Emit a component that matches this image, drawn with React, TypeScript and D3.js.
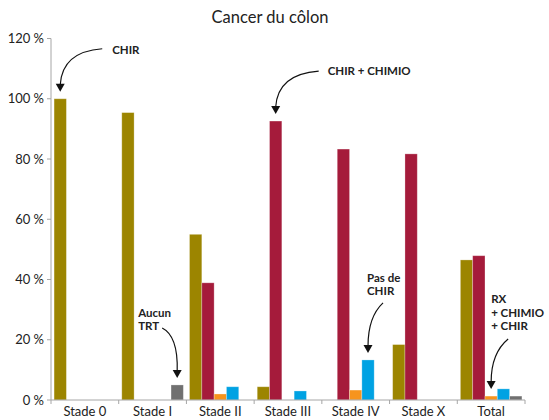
import * as React from 'react';
import * as d3 from 'd3';

// Data
const categories = ['Stade 0', 'Stade I', 'Stade II', 'Stade III', 'Stade IV', 'Stade X', 'Total'];
const seriesNames = ['CHIR', 'CHIR + CHIMIO', 'RX + CHIMIO + CHIR', 'Pas de CHIR', 'Aucun TRT'];
const chir = [100, 95.4, 55.0, 4.4, 0, 18.4, 46.5];
const chirChimio = [0, 0, 38.9, 92.6, 83.3, 81.7, 47.9];
const rxChimioChir = [0, 0, 2.0, 0, 3.3, 0, 1.3];
const pasDeChir = [0, 0, 4.4, 3.0, 13.3, 0, 3.7];
const aucunTrt = [0, 5.0, 0, 0, 0, 0, 1.3];
const yTicks = [0, 20, 40, 60, 80, 100, 120];

const seriesValues = [chir, chirChimio, rxChimioChir, pasDeChir, aucunTrt];
const colors = ['#9c8500', '#a51b3b', '#f7941d', '#00a2e3', '#707070'];

// annotations: which bar the arrow points at, and text lines
interface Note {
  cat: string;
  series: number;
  lines: string[];
  start: [number, number]; // arrow start, relative to tip
  ctrl: [number, number]; // curve control, relative to tip
  text: [number, number]; // first line position, relative to tip
}
const notes: Note[] = [
  { cat: 'Stade 0', series: 0, lines: ['CHIR'], start: [42, -43], ctrl: [2, -40], text: [52, -42] },
  { cat: 'Stade III', series: 1, lines: ['CHIR + CHIMIO'], start: [43, -43], ctrl: [2, -40], text: [52, -43] },
  { cat: 'Stade I', series: 4, lines: ['Aucun', 'TRT'], start: [-15, -50], ctrl: [1, -42], text: [-39, -65] },
  { cat: 'Stade IV', series: 3, lines: ['Pas de', 'CHIR'], start: [15, -50], ctrl: [0, -36], text: [-1, -75] },
  { cat: 'Total', series: 2, lines: ['RX', '+ CHIMIO', '+ CHIR'], start: [17, -50], ctrl: [0, -36], text: [0, -90] },
];

const W = 549;
const H = 420;
const left = 51;
const right = 525;
const top = 38.5;
const bottom = 400;
const font = 'Lato, "Open Sans", sans-serif';

const App: React.FC = () => {
  const x0 = d3.scaleBand().domain(categories).range([left, right]).paddingInner(0).paddingOuter(0);
  const x1 = d3.scaleBand<number>().domain(d3.range(seriesNames.length)).range([0, x0.bandwidth()]).paddingOuter(0.25).paddingInner(0);
  const y = d3.scaleLinear().domain([0, 120]).range([bottom, top]);
  const axisColor = '#a6a6a6';

  return (
    <svg width={W} height={H} style={{ position: 'absolute', left: 0, top: 0, background: '#fff' }} fontFamily={font}>
      <text x={270} y={23} textAnchor="middle" fontSize={16.5} fill="#222">Cancer du côlon</text>

      {/* y axis */}
      <line x1={left} x2={left} y1={top} y2={bottom} stroke={axisColor} />
      {yTicks.map(t => (
        <g key={t}>
          <line x1={left - 4} x2={left} y1={y(t)} y2={y(t)} stroke={axisColor} />
          <text x={44} y={y(t)} dy="0.35em" textAnchor="end" fontSize={13} fill="#222">{`${t} %`}</text>
        </g>
      ))}

      {/* bars */}
      {categories.map((c, ci) => (
        <g key={c} transform={`translate(${x0(c)},0)`}>
          {seriesValues.map((vals, si) => vals[ci] > 0 ? (
            <rect key={si} x={x1(si)} y={y(vals[ci])} width={x1.bandwidth()} height={bottom - y(vals[ci])}
              fill={colors[si]} stroke="#ffffff" strokeOpacity={0.35} strokeWidth={0.8} />
          ) : null)}
        </g>
      ))}

      {/* x axis */}
      <line x1={left} x2={right} y1={bottom} y2={bottom} stroke={axisColor} />
      {d3.range(categories.length + 1).map(i => {
        const xx = left + i * x0.step();
        return <line key={i} x1={xx} x2={xx} y1={bottom} y2={bottom + 4} stroke={axisColor} />;
      })}
      {categories.map(c => (
        <text key={c} x={(x0(c) ?? 0) + x0.bandwidth() / 2} y={416} textAnchor="middle" fontSize={13} fill="#222">{c}</text>
      ))}

      {/* annotations */}
      <g>
        {notes.map((n, i) => {
          const vals = seriesValues[n.series];
          const ci = categories.indexOf(n.cat);
          const tx = (x0(n.cat) ?? 0) + (x1(n.series) ?? 0) + x1.bandwidth() / 2;
          const ty = y(vals[ci]) - 7;
          const headH = 8;
          const path = d3.path();
          path.moveTo(tx + n.start[0], ty + n.start[1]);
          path.quadraticCurveTo(tx + n.ctrl[0], ty + n.ctrl[1], tx, ty - headH + 1);
          return (
            <g key={i}>
              <path d={path.toString()} fill="none" stroke="#111" strokeWidth={1.2} />
              <path d={`M${tx - 4.5},${ty - headH}L${tx + 4.5},${ty - headH}L${tx},${ty}Z`} fill="#111" />
              {n.lines.map((l, li) => (
                <text key={li} x={tx + n.text[0]} y={ty + n.text[1] + li * 13.5} dy="0.35em"
                  fontSize={11.5} fontWeight="bold" fill="#222">{l}</text>
              ))}
            </g>
          );
        })}
      </g>
    </svg>
  );
};

export default App;
